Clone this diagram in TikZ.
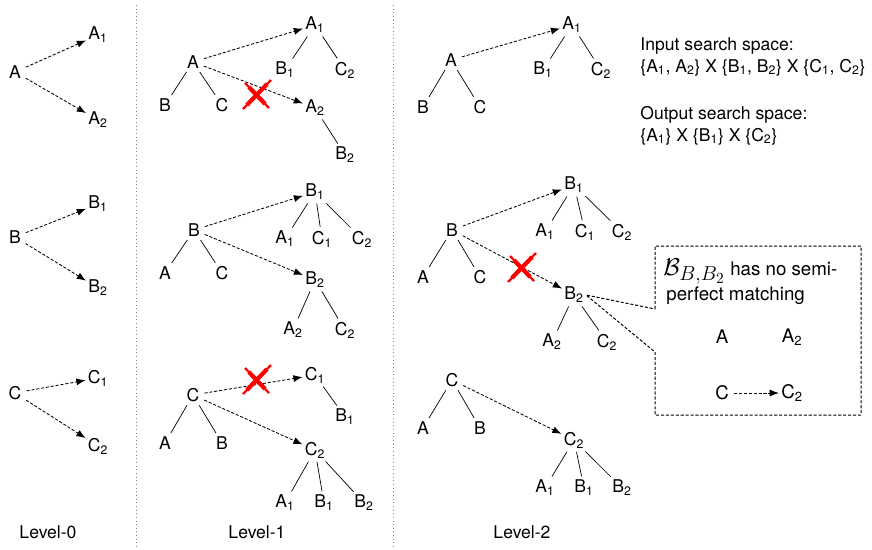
\documentclass[tikz,border=0pt]{standalone}
\usepackage{fontspec}
\setmainfont{TeX Gyre Heros}
\usetikzlibrary{positioning, arrows.meta}

\newcommand{\lsub}[2]{#1\textsubscript{#2}}

\begin{document}
\begin{tikzpicture}[x=0.025cm, y=-0.025cm, >={Latex[length=6.5pt,width=5pt]}, font=\fontsize{12.5}{15}\selectfont]
	% Stili comuni
	\tikzset{
		lab/.style={inner sep=1.5pt},
		link/.style={line width=0.5pt, shorten <=1pt, shorten >=1pt},
		jump/.style={->, line width=0.6pt, dash pattern=on 2.2pt off 1.3pt, shorten <=2pt},
		cross/.style={draw=red, line width=1.6pt},
		crossmid/.style={draw=red, line width=3pt, shorten <=4pt, shorten >=4pt},
		divider/.style={gray, dotted, line width=0.6pt},
		notefont/.style={font=\fontsize{13.3}{16}\selectfont}
	}
	\useasboundingbox (0,0) rectangle (872,549);
	
	% Separatori tra i livelli
	\draw[divider] (136,5) -- (136,549);
	\draw[divider] (393,5) -- (393,549);
	
	% Level-0
	\node[lab] (zA) at (15,72) {A};
	\node[lab] (zA1) at (98,35) {\lsub{A}{1}};
	\node[lab] (zA2) at (98,120) {\lsub{A}{2}};
	\node[lab] (zB) at (15,237) {B};
	\node[lab] (zB1) at (98,204) {\lsub{B}{1}};
	\node[lab] (zB2) at (98,288) {\lsub{B}{2}};
	\node[lab] (zC) at (15,393) {C};
	\node[lab] (zC1) at (98,378) {\lsub{C}{1}};
	\node[lab] (zC2) at (98,446) {\lsub{C}{2}};
	\foreach \p in {A,B,C}
	{
		\draw[jump] (z\p) -- (z\p1);
		\draw[jump] (z\p) -- (z\p2);
	}
	\node[lab] (zlev) at (48,532) {Level-0};
	
	% Level-1, albero A
	\node[lab] (oA) at (193,62) {A};
	\node[lab] (oAb) at (165,105) {B};
	\node[lab] (oAc) at (222,105) {C};
	\node[lab] (oAa1) at (315,25) {\lsub{A}{1}};
	\node[lab] (oAb1) at (285,70) {\lsub{B}{1}};
	\node[lab] (oAc2) at (345,70) {\lsub{C}{2}};
	\node[lab] (oAa2) at (315,108) {\lsub{A}{2}};
	\node[lab] (oAb2) at (345,155) {\lsub{B}{2}};
	\draw[link] (oA) -- (oAb);
	\draw[link] (oA) -- (oAc);
	\draw[link] (oAa1) -- (oAb1);
	\draw[link] (oAa1) -- (oAc2);
	\draw[link] (oAa2) -- (oAb2);
	\draw[jump] (oA) -- (oAa1);
	\draw[jump] (oA) -- (oAa2);
	
	% Level-1, albero B
	\node[lab] (oB) at (194,230) {B};
	\node[lab] (oBa) at (165,273) {A};
	\node[lab] (oBc) at (222,273) {C};
	\node[lab] (oBb1) at (315,192) {\lsub{B}{1}};
	\node[lab] (oBa1) at (285,239) {\lsub{A}{1}};
	\node[lab] (oBc1) at (322,239) {\lsub{C}{1}};
	\node[lab] (oBc2) at (362,239) {\lsub{C}{2}};
	\node[lab] (oBb2) at (315,280) {\lsub{B}{2}};
	\node[lab] (oBa2) at (293,330) {\lsub{A}{2}};
	\node[lab] (oBc22) at (345,330) {\lsub{C}{2}};
	\draw[link] (oB) -- (oBa);
	\draw[link] (oB) -- (oBc);
	\draw[link] (oBb1) -- (oBa1);
	\draw[link] (oBb1) -- (oBc1);
	\draw[link] (oBb1) -- (oBc2);
	\draw[link] (oBb2) -- (oBa2);
	\draw[link] (oBb2) -- (oBc22);
	\draw[jump] (oB) -- (oBb1);
	\draw[jump] (oB) -- (oBb2);
	
	% Level-1, albero C
	\node[lab] (oC) at (193,395) {C};
	\node[lab] (oCa) at (165,443) {A};
	\node[lab] (oCb) at (222,443) {B};
	\node[lab] (oCc1) at (315,375) {\lsub{C}{1}};
	\node[lab] (oCb1) at (345,417) {\lsub{B}{1}};
	\node[lab] (oCc2) at (315,450) {\lsub{C}{2}};
	\node[lab] (oCa1) at (285,503) {\lsub{A}{1}};
	\node[lab] (oCb12) at (324,503) {\lsub{B}{1}};
	\node[lab] (oCb2) at (364,503) {\lsub{B}{2}};
	\draw[link] (oC) -- (oCa);
	\draw[link] (oC) -- (oCb);
	\draw[link] (oCc1) -- (oCb1);
	\draw[link] (oCc2) -- (oCa1);
	\draw[link] (oCc2) -- (oCb12);
	\draw[link] (oCc2) -- (oCb2);
	\draw[jump] (oC) -- (oCc1);
	\draw[jump] (oC) -- (oCc2);
	\node[lab] (olev) at (257,532) {Level-1};
	
	% Level-2, albero A
	\node[lab] (tA) at (451,60) {A};
	\node[lab] (tAb) at (423,107) {B};
	\node[lab] (tAc) at (480,107) {C};
	\node[lab] (tAa1) at (572,25) {\lsub{A}{1}};
	\node[lab] (tAb1) at (543,70) {\lsub{B}{1}};
	\node[lab] (tAc2) at (601,70) {\lsub{C}{2}};
	\draw[link] (tA) -- (tAb);
	\draw[link] (tA) -- (tAc);
	\draw[link] (tAa1) -- (tAb1);
	\draw[link] (tAa1) -- (tAc2);
	\draw[jump] (tA) -- (tAa1);
	
	% Level-2, albero B
	\node[lab] (tB) at (452,230) {B};
	\node[lab] (tBa) at (423,277) {A};
	\node[lab] (tBc) at (480,277) {C};
	\node[lab] (tBb1) at (574,185) {\lsub{B}{1}};
	\node[lab] (tBa1) at (545,232) {\lsub{A}{1}};
	\node[lab] (tBc1) at (585,232) {\lsub{C}{1}};
	\node[lab] (tBc2) at (622,232) {\lsub{C}{2}};
	\node[lab] (tBb2) at (574,295) {\lsub{B}{2}};
	\node[lab] (tBa2) at (552,342) {\lsub{A}{2}};
	\node[lab] (tBc22) at (607,342) {\lsub{C}{2}};
	\draw[link] (tB) -- (tBa);
	\draw[link] (tB) -- (tBc);
	\draw[link] (tBb1) -- (tBa1);
	\draw[link] (tBb1) -- (tBc1);
	\draw[link] (tBb1) -- (tBc2);
	\draw[link] (tBb2) -- (tBa2);
	\draw[link] (tBb2) -- (tBc22);
	\draw[jump] (tB) -- (tBb1);
	\draw[jump] (tB) -- (tBb2);
	
	% Level-2, albero C
	\node[lab] (tC) at (452,380) {C};
	\node[lab] (tCa) at (423,428) {A};
	\node[lab] (tCb) at (480,428) {B};
	\node[lab] (tCc2) at (574,440) {\lsub{C}{2}};
	\node[lab] (tCa1) at (545,488) {\lsub{A}{1}};
	\node[lab] (tCb1) at (584,488) {\lsub{B}{1}};
	\node[lab] (tCb2) at (622,488) {\lsub{B}{2}};
	\draw[link] (tC) -- (tCa);
	\draw[link] (tC) -- (tCb);
	\draw[link] (tCc2) -- (tCa1);
	\draw[link] (tCc2) -- (tCb1);
	\draw[link] (tCc2) -- (tCb2);
	\draw[jump] (tC) -- (tCc2);
	\node[lab] (tlev) at (522,532) {Level-2};
	
	% Spazi di ricerca
	\node[lab, anchor=base west] (insp) at (638,50) {Input search space:};
	\node[lab, anchor=base west] (inset) at (638,72) {\{\lsub{A}{1}, \lsub{A}{2}\} X \{\lsub{B}{1}, \lsub{B}{2}\} X \{\lsub{C}{1}, \lsub{C}{2}\}};
	\node[lab, anchor=base west] (outsp) at (638,119) {Output search space:};
	\node[lab, anchor=base west] (outset) at (638,141) {\{\lsub{A}{1}\} X \{\lsub{B}{1}\} X \{\lsub{C}{2}\}};
	
	% Riquadro di commento su B2
	\draw[line width=0.7pt, dash pattern=on 2.2pt off 1.3pt]
		(655,309) -- (655,246) -- (861,246) -- (861,415) -- (655,415) -- (655,352)
		-- (tBb2.east) -- cycle;
	\node[lab, notefont, anchor=base west] (note1) at (661,275)
		{{\fontsize{18}{20}\selectfont$\mathcal{B}_{\mbox{\fontsize{15}{16}\selectfont$B{,}B_2$}}$} has no semi-};
	\node[lab, notefont, anchor=base west] (note2) at (664,300) {perfect matching};
	\node[lab, notefont] (mA) at (722,337) {A};
	\node[lab, notefont] (mA2) at (792,337) {\lsub{A}{2}};
	\node[lab, notefont] (mC) at (722,393) {C};
	\node[lab, notefont] (mC2) at (792,393) {\lsub{C}{2}};
	\draw[jump] (mC) -- (mC2);
	
	% Croci rosse sugli archi scartati
	\foreach \p in {(257,95), (257,380), (522,268)}
	{
		\draw[cross] \p ++(-12,-12) -- ++(24,25);
		\draw[crossmid] \p ++(-12,-12) -- ++(24,25);
		\draw[cross] \p ++(14,-15) -- ++(-28,29);
		\draw[crossmid] \p ++(14,-15) -- ++(-28,29);
	}
\end{tikzpicture}
\end{document}
